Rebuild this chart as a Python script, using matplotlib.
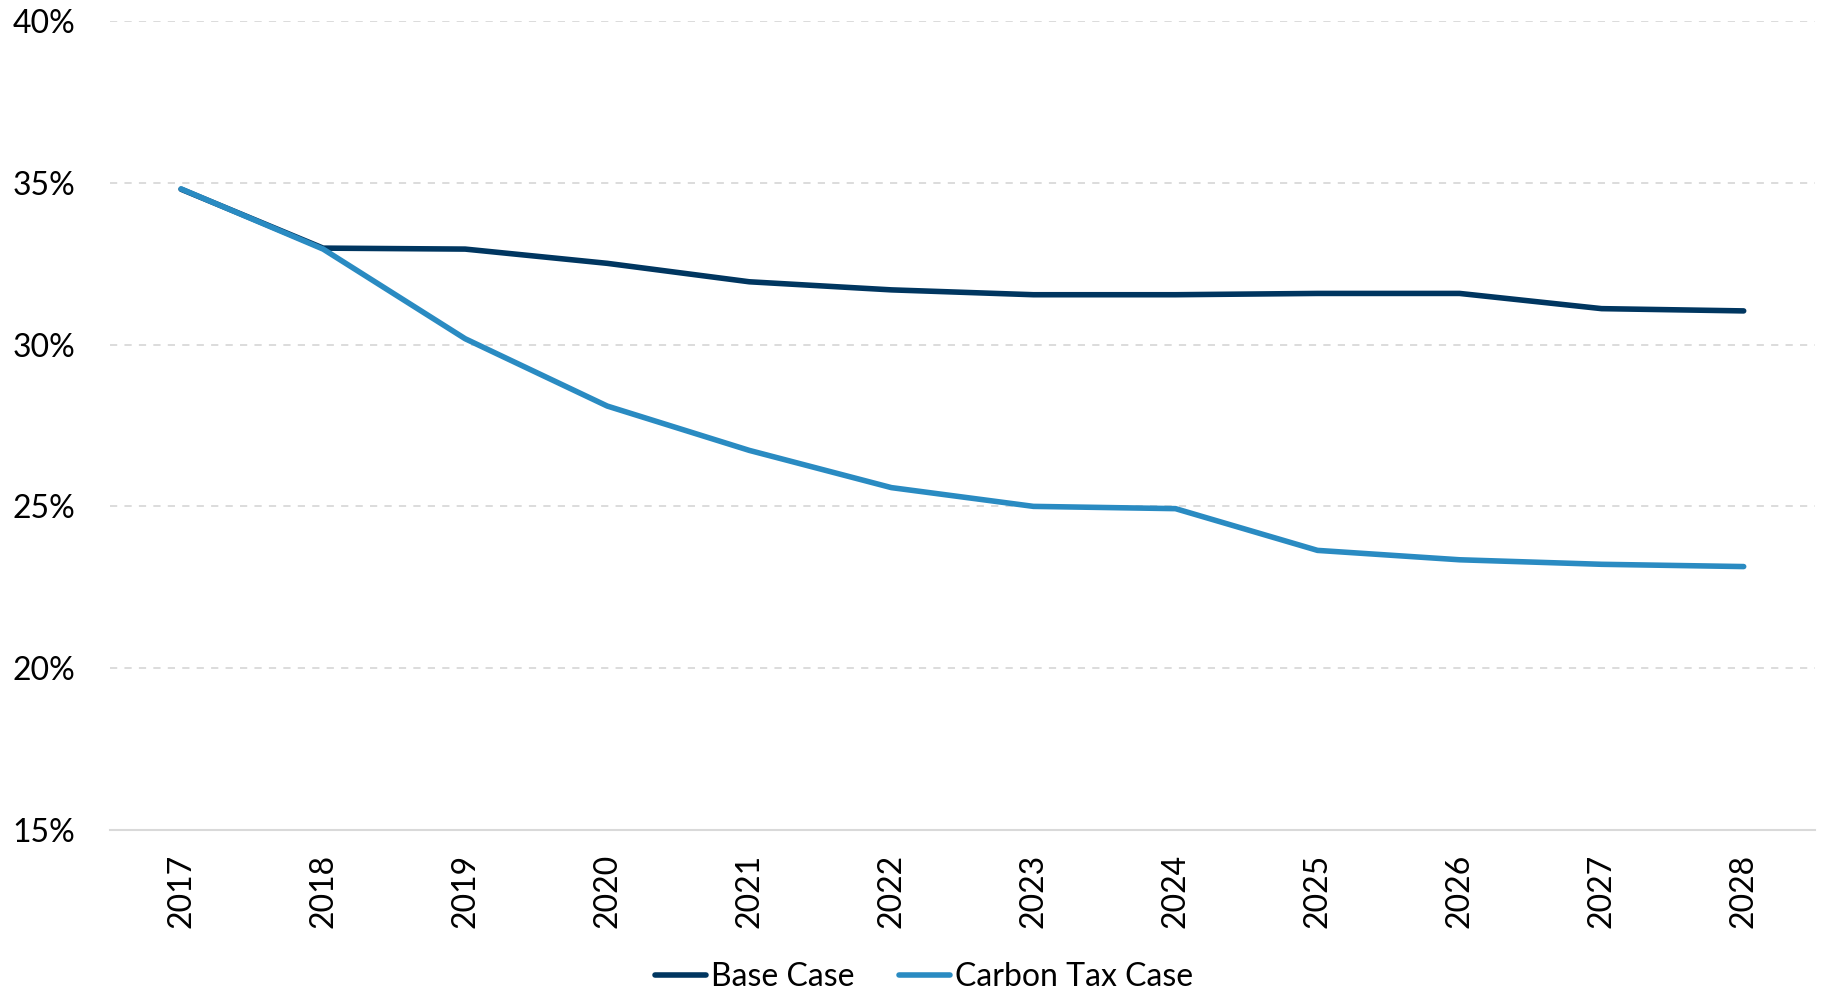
import matplotlib.pyplot as plt
from matplotlib.ticker import FuncFormatter

# anos e series (%)
years = ['2017', '2018', '2019', '2020', '2021', '2022', '2023', '2024', '2025', '2026', '2027', '2028']
base_case = [34.8, 32.98, 32.95, 32.51, 31.94, 31.69, 31.54, 31.54, 31.58, 31.58, 31.11, 31.04]
carbon_tax = [34.81, 32.95, 30.18, 28.10, 26.73, 25.58, 25.00, 24.93, 23.64, 23.35, 23.21, 23.14]

plt.rcParams['font.family'] = ['Lato', 'DejaVu Sans']

fig = plt.figure(figsize=(18.22, 9.97), dpi=100)
ax = fig.add_axes([0.0604, 0.1675, 0.9356, 0.8115])

x = range(len(years))
ax.plot(x, base_case, color='#003660', lw=4, solid_capstyle='round', label='Base Case', zorder=3)
ax.plot(x, carbon_tax, color='#2a8bc2', lw=4, solid_capstyle='round', label='Carbon Tax Case', zorder=4)

ax.set_xlim(-0.5, len(years) - 0.5)
ax.set_ylim(15, 40)
ax.set_yticks([15, 20, 25, 30, 35, 40])
ax.yaxis.set_major_formatter(FuncFormatter(lambda v, p: f'{v:.0f}%'))
ax.set_xticks(list(x))
ax.set_xticklabels(years, rotation=90)

ax.grid(axis='y', color='#d9d9d9', linestyle=(0, (4, 4)), lw=1.3, zorder=0)
for s in ['top', 'right', 'left']:
    ax.spines[s].set_visible(False)
ax.spines['bottom'].set_color('#d9d9d9')
ax.spines['bottom'].set_linewidth(1.5)
ax.tick_params(axis='both', length=0, labelsize=23, colors='black')
ax.tick_params(axis='y', pad=25)
ax.tick_params(axis='x', pad=17)

fig.legend(loc='center', bbox_to_anchor=(0.507, 0.02), ncol=2, frameon=False,
           fontsize=23, handlelength=1.6, handletextpad=0.15, columnspacing=1.4)

fig.savefig('out.png', dpi=100)
